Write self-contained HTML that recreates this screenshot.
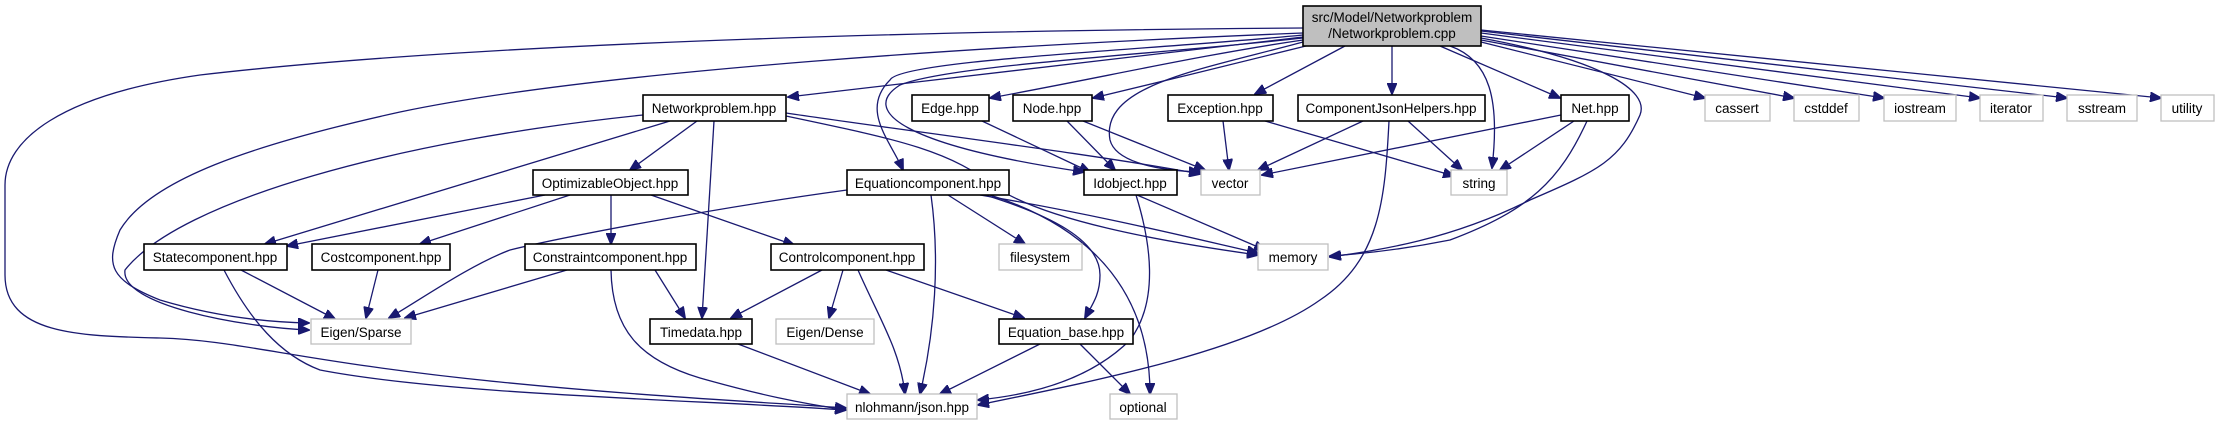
<!DOCTYPE html>
<html><head><meta charset="utf-8"><style>
html,body{margin:0;padding:0;background:#fff;width:2220px;height:425px;overflow:hidden}
svg{display:block}
text{font-family:"Liberation Sans",Arial,sans-serif;font-size:13.5px;fill:#000}
.e{fill:none;stroke:#191970;stroke-width:1.3}
.b{fill:#fff;stroke:#000;stroke-width:1.6}
.g{fill:#fff;stroke:#bfbfbf;stroke-width:1.3}
</style></head><body>
<svg width="2220" height="425" viewBox="0 0 2220 425" xmlns="http://www.w3.org/2000/svg">
<defs><marker id="a" markerWidth="12" markerHeight="10" refX="11" refY="5" orient="auto" markerUnits="userSpaceOnUse"><path d="M0,0 L12,5 L0,10 z" fill="#191970" stroke="#191970"/></marker></defs>
<g class="e" marker-end="url(#a)">
<!-- root edges -->
<path d="M1303,28 C1000,30 500,40 200,75 C60,95 5,140 5,185 L5,275 C5,335 80,336 160,338 C240,340 300,362 500,382 C650,397 780,403 846,408"/>
<path d="M1303,33 C1000,45 600,70 400,112 C250,145 150,180 120,230 C105,265 110,280 160,300 C210,315 260,322 309,323"/>
<path d="M1303,37 C1100,60 900,85 788,97"/>
<path d="M1303,40 C1200,55 1100,78 990,98"/>
<path d="M1310,45 C1250,60 1160,82 1093,98"/>
<path d="M1345,46 L1255,94"/>
<path d="M1392,46 L1392,94"/>
<path d="M1440,46 L1560,98"/>
<path d="M1303,42 C1200,70 1100,85 1110,140 C1115,160 1150,170 1200,172"/>
<path d="M1450,46 C1490,60 1500,100 1492,168"/>
<path d="M1481,38 C1600,60 1650,90 1640,115 C1620,160 1600,170 1530,200 C1450,240 1380,250 1330,257"/>
<path d="M1481,42 L1705,98"/>
<path d="M1481,40 L1794,98"/>
<path d="M1481,36 L1884,98"/>
<path d="M1481,33 L1980,98"/>
<path d="M1481,31 L2067,98"/>
<path d="M1481,30 L2161,98"/>
<path d="M1303,35 C1150,50 900,60 890,80 C860,110 890,140 903,170"/>
<path d="M1303,38 C1150,55 950,65 900,85 C860,110 900,145 1084,172"/>
<!-- Networkproblem -->
<path d="M697,121 L630,170"/>
<path d="M670,121 L265,244"/>
<path d="M643,115 C400,140 180,200 125,270 C120,305 240,327 309,330"/>
<path d="M714,121 L702,318"/>
<path d="M786,113 C900,130 1100,155 1200,174"/>
<path d="M786,116 C900,140 950,150 1000,190 C1050,220 1150,240 1258,255"/>
<!-- Optimizable -->
<path d="M545,195 L287,246"/>
<path d="M570,195 L420,244"/>
<path d="M611,195 L611,244"/>
<path d="M651,195 L794,245"/>
<!-- Statecomponent etc -->
<path d="M241,270 L335,319"/>
<path d="M224,270 C250,320 280,355 320,370 C450,395 700,400 846,410"/>
<path d="M378,270 L366,318"/>
<path d="M567,270 L405,318"/>
<path d="M655,270 L685,318"/>
<path d="M611,270 C612,330 640,360 700,378 C760,395 800,403 846,410"/>
<!-- Equationcomponent -->
<path d="M847,190 C700,210 550,240 510,250 C470,265 420,300 389,318"/>
<path d="M931,195 C940,260 935,330 920,394"/>
<path d="M948,195 L1025,244"/>
<path d="M980,195 C1100,215 1200,240 1258,253"/>
<path d="M985,195 C1050,215 1100,240 1100,275 C1100,295 1092,305 1085,318"/>
<path d="M990,195 C1100,230 1150,300 1150,394"/>
<!-- Controlcomponent -->
<path d="M822,270 L731,318"/>
<path d="M843,270 L829,318"/>
<path d="M858,270 C880,320 900,350 905,394"/>
<path d="M886,270 L1024,318"/>
<!-- Timedata, Equation_base -->
<path d="M738,344 L870,394"/>
<path d="M1040,344 L940,394"/>
<path d="M1080,344 L1130,394"/>
<!-- Edge/Node/Idobject -->
<path d="M982,121 L1090,172"/>
<path d="M1067,121 L1115,170"/>
<path d="M1083,121 L1205,170"/>
<path d="M1223,121 L1229,170"/>
<path d="M1265,121 L1454,176"/>
<path d="M1363,121 L1258,170"/>
<path d="M1408,121 L1462,170"/>
<path d="M1389,121 C1385,200 1380,260 1320,300 C1250,350 1100,380 978,405"/>
<path d="M1561,115 L1262,175"/>
<path d="M1574,121 L1500,170"/>
<path d="M1587,121 C1560,180 1530,210 1450,240 C1400,250 1360,254 1330,256"/>
<path d="M1137,195 L1265,250"/>
<path d="M1136,195 C1150,240 1160,300 1130,340 C1090,380 1030,395 978,400"/>
</g>
<!-- nodes -->
<rect x="1303" y="6" width="178" height="40" fill="#bfbfbf" stroke="#000" stroke-width="1.6"/>
<text x="1392" y="22" text-anchor="middle">src/Model/Networkproblem</text>
<text x="1392" y="38" text-anchor="middle">/Networkproblem.cpp</text>
<g>
<rect class="b" x="643" y="95" width="143" height="26"/><text x="714" y="113" text-anchor="middle">Networkproblem.hpp</text>
<rect class="b" x="912" y="95" width="77" height="26"/><text x="950" y="113" text-anchor="middle">Edge.hpp</text>
<rect class="b" x="1013" y="95" width="79" height="26"/><text x="1052" y="113" text-anchor="middle">Node.hpp</text>
<rect class="b" x="1168" y="95" width="105" height="26"/><text x="1220" y="113" text-anchor="middle">Exception.hpp</text>
<rect class="b" x="1298" y="95" width="187" height="26"/><text x="1391" y="113" text-anchor="middle">ComponentJsonHelpers.hpp</text>
<rect class="b" x="1561" y="95" width="68" height="26"/><text x="1595" y="113" text-anchor="middle">Net.hpp</text>
<rect class="g" x="1705" y="95" width="65" height="26"/><text x="1737" y="113" text-anchor="middle">cassert</text>
<rect class="g" x="1794" y="95" width="65" height="26"/><text x="1826" y="113" text-anchor="middle">cstddef</text>
<rect class="g" x="1884" y="95" width="72" height="26"/><text x="1920" y="113" text-anchor="middle">iostream</text>
<rect class="g" x="1980" y="95" width="63" height="26"/><text x="2011" y="113" text-anchor="middle">iterator</text>
<rect class="g" x="2067" y="95" width="70" height="26"/><text x="2102" y="113" text-anchor="middle">sstream</text>
<rect class="g" x="2161" y="95" width="53" height="26"/><text x="2187" y="113" text-anchor="middle">utility</text>

<rect class="b" x="533" y="170" width="155" height="25"/><text x="610" y="188" text-anchor="middle">OptimizableObject.hpp</text>
<rect class="b" x="847" y="170" width="162" height="25"/><text x="928" y="188" text-anchor="middle">Equationcomponent.hpp</text>
<rect class="b" x="1084" y="170" width="93" height="25"/><text x="1130" y="188" text-anchor="middle">Idobject.hpp</text>
<rect class="g" x="1201" y="170" width="59" height="25"/><text x="1230" y="188" text-anchor="middle">vector</text>
<rect class="g" x="1451" y="170" width="56" height="25"/><text x="1479" y="188" text-anchor="middle">string</text>

<rect class="b" x="144" y="244" width="143" height="26"/><text x="215" y="262" text-anchor="middle">Statecomponent.hpp</text>
<rect class="b" x="312" y="244" width="138" height="26"/><text x="381" y="262" text-anchor="middle">Costcomponent.hpp</text>
<rect class="b" x="525" y="244" width="171" height="26"/><text x="610" y="262" text-anchor="middle">Constraintcomponent.hpp</text>
<rect class="b" x="771" y="244" width="153" height="26"/><text x="847" y="262" text-anchor="middle">Controlcomponent.hpp</text>
<rect class="g" x="999" y="244" width="83" height="26"/><text x="1040" y="262" text-anchor="middle">filesystem</text>
<rect class="g" x="1258" y="244" width="70" height="26"/><text x="1293" y="262" text-anchor="middle">memory</text>

<rect class="g" x="311" y="319" width="100" height="25"/><text x="361" y="337" text-anchor="middle">Eigen/Sparse</text>
<rect class="b" x="650" y="319" width="102" height="25"/><text x="701" y="337" text-anchor="middle">Timedata.hpp</text>
<rect class="g" x="776" y="319" width="98" height="25"/><text x="825" y="337" text-anchor="middle">Eigen/Dense</text>
<rect class="b" x="999" y="319" width="134" height="25"/><text x="1066" y="337" text-anchor="middle">Equation_base.hpp</text>

<rect class="g" x="847" y="394" width="130" height="25"/><text x="912" y="412" text-anchor="middle">nlohmann/json.hpp</text>
<rect class="g" x="1110" y="394" width="67" height="25"/><text x="1143" y="412" text-anchor="middle">optional</text>
</g>
</svg>
</body></html>
